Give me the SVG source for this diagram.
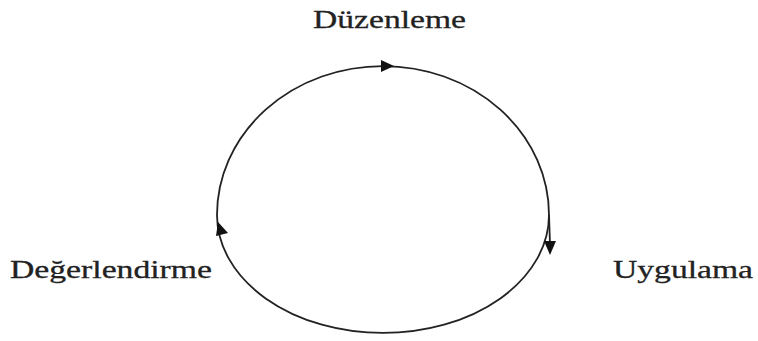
<svg xmlns="http://www.w3.org/2000/svg" width="758" height="341" viewBox="0 0 758 341">
<style>
.lbl{font-family:"Liberation Serif","Times New Roman",serif;font-size:25px;fill:#222;stroke:#222;stroke-width:0.3}
.ring{fill:none;stroke:#222;stroke-width:1.8}
.ah{fill:#111}
</style>
<rect width="758" height="341" fill="#fff"/>
<g id="connectors">
<path class="ring" d="M217 215 A166 149 0 0 1 549 215 A166 118 0 0 1 217 215"/>
<path class="ring" d="M549 215 L550 244"/>
<polygon class="ah" points="394,66 381,60 381,72"/>
<polygon class="ah" points="550,255 544,241 556,241"/>
<polygon class="ah" points="218,222 216,236 228,233"/>
</g>
<g id="duzenleme"><text class="lbl" x="313" y="28" textLength="153" lengthAdjust="spacingAndGlyphs">Düzenleme</text></g>
<g id="uygulama"><text class="lbl" x="613" y="278" textLength="140" lengthAdjust="spacingAndGlyphs">Uygulama</text></g>
<g id="degerlendirme"><text class="lbl" x="10" y="278" textLength="202" lengthAdjust="spacingAndGlyphs">Değerlendirme</text></g>
</svg>
